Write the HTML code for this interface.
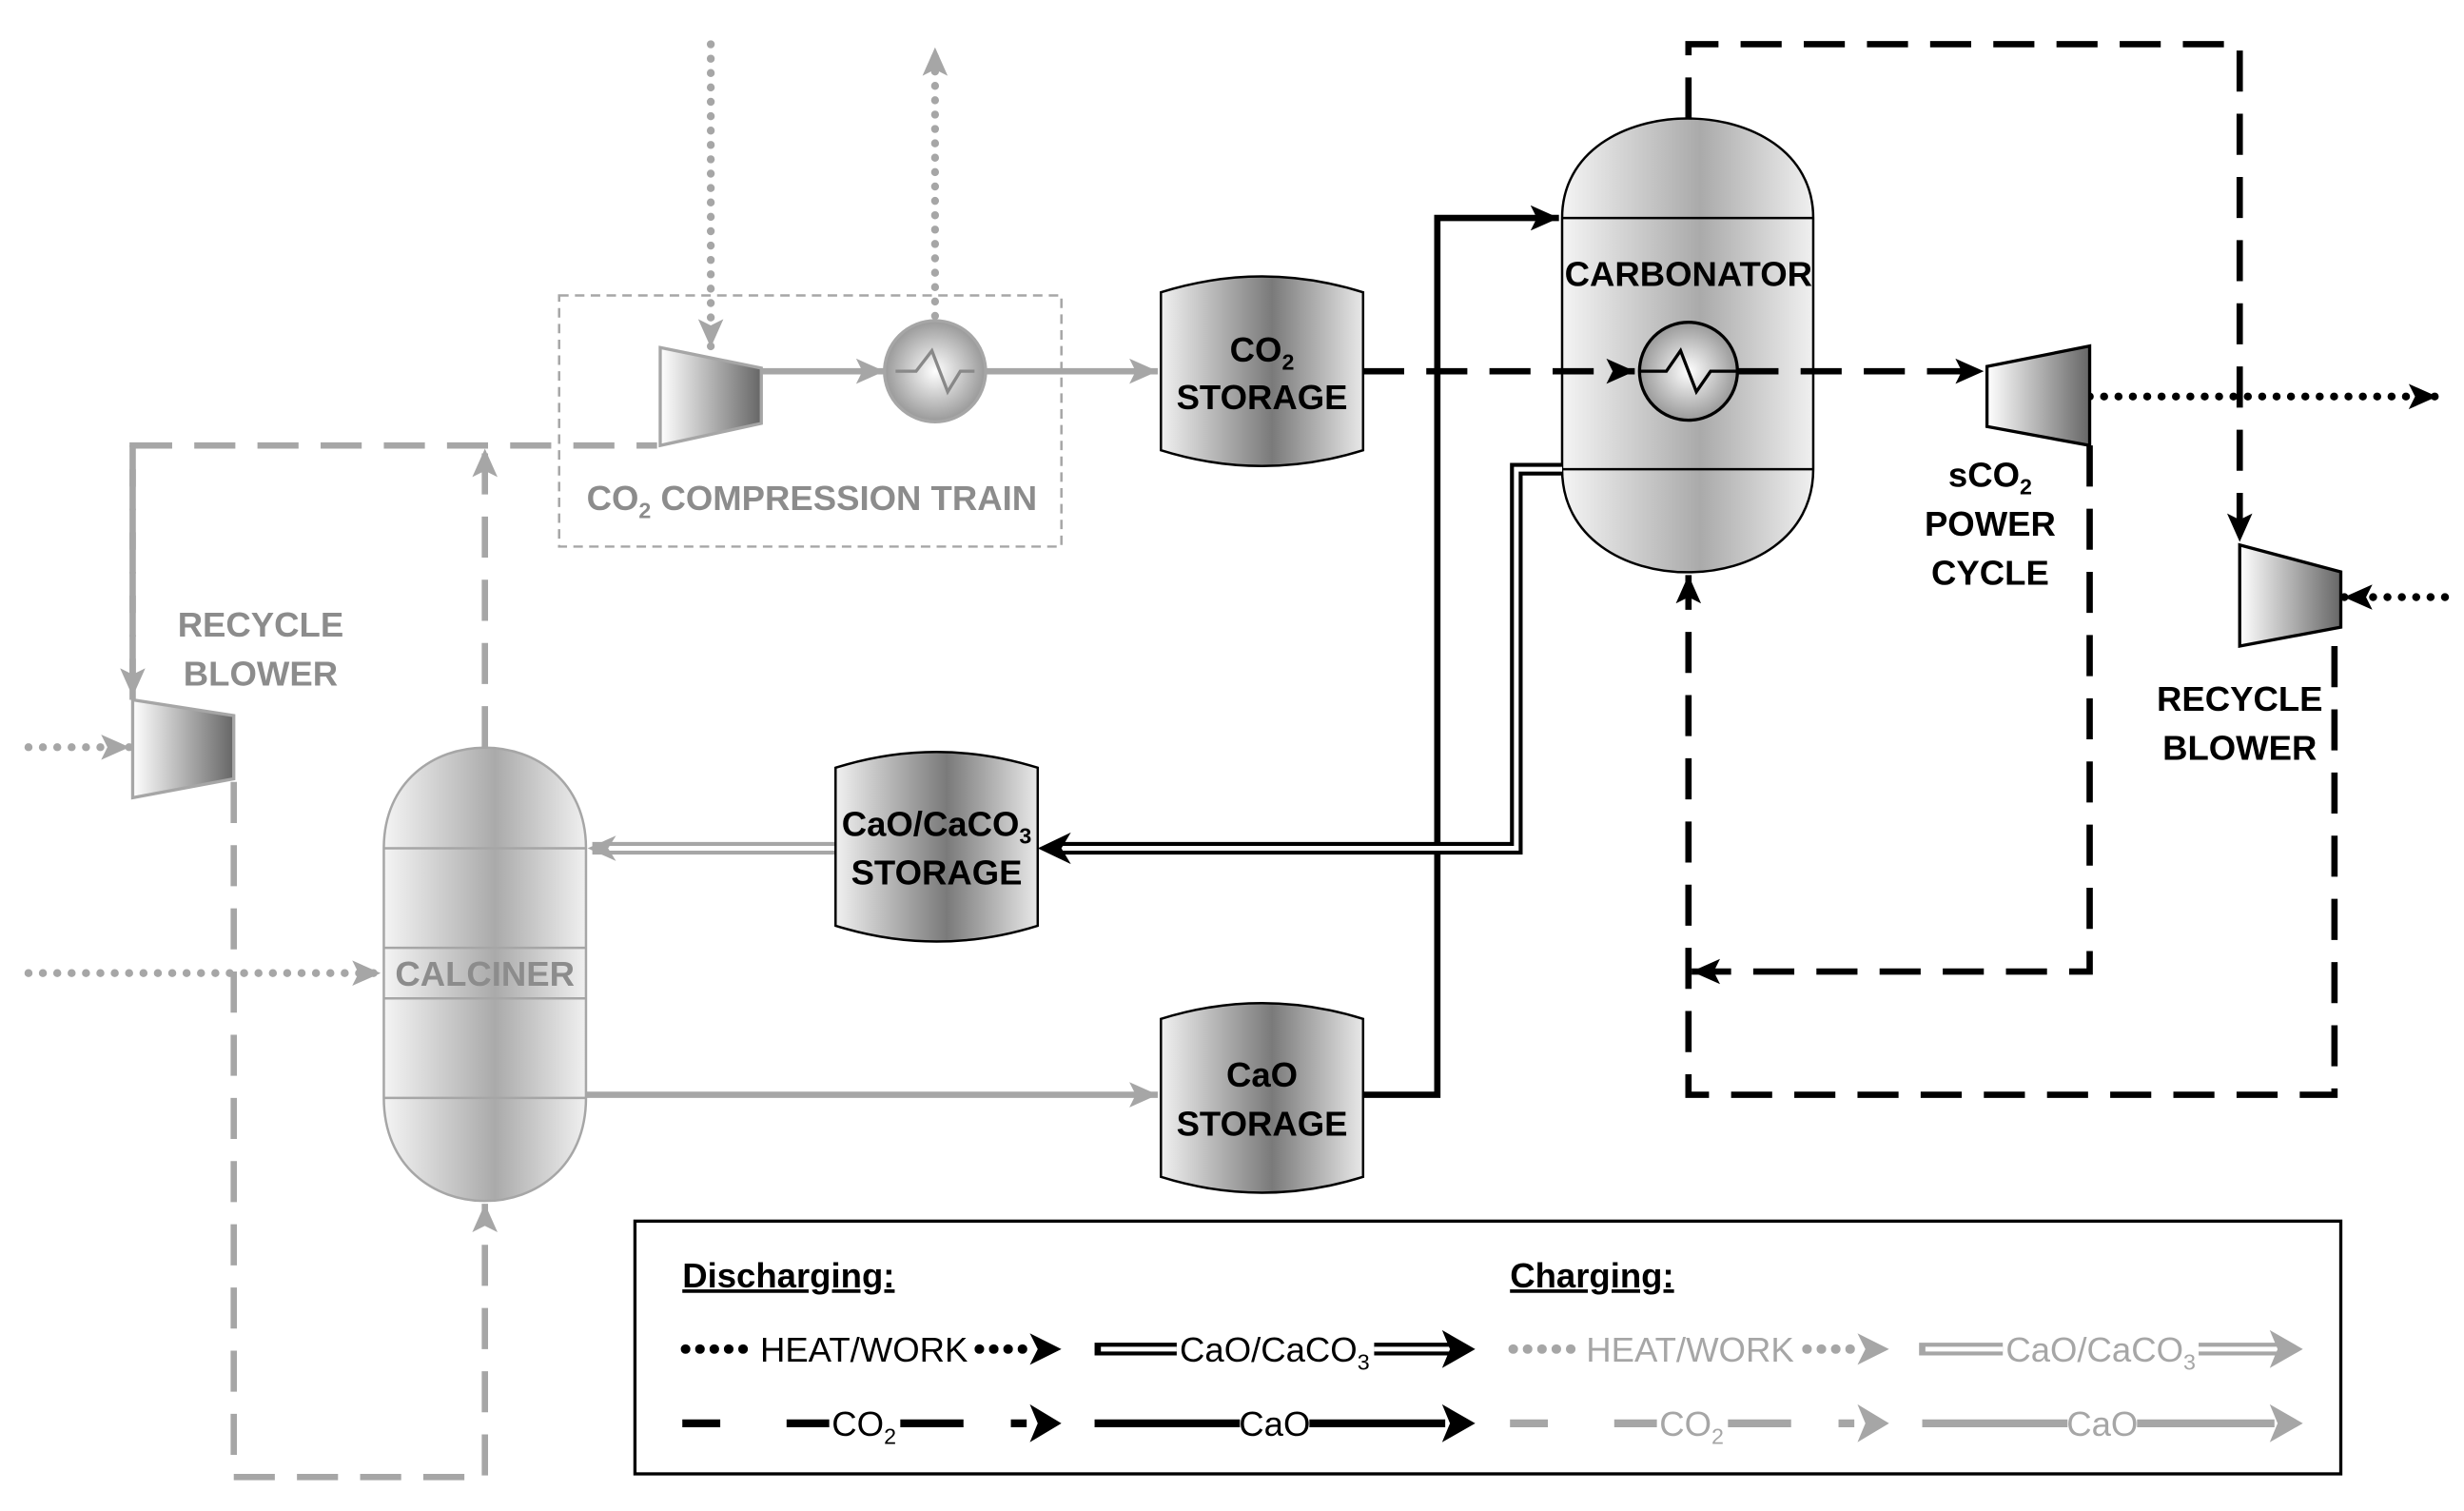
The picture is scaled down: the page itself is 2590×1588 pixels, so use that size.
<!DOCTYPE html>
<html><head><meta charset="utf-8"><style>html,body{margin:0;padding:0;background:#fff}svg{display:block}
text{font-family:"Liberation Sans Narrow","Liberation Sans",sans-serif;font-weight:bold}
text.n{font-weight:normal}</style></head><body>
<svg width="2590" height="1588" viewBox="0 0 1560 956.5" preserveAspectRatio="none" xmlns="http://www.w3.org/2000/svg">
<defs>
<linearGradient id="g" x1="0" x2="1" y1="0" y2="0"><stop offset="0" stop-color="#f0f0f0"/><stop offset="0.55" stop-color="#7a7a7a"/><stop offset="1" stop-color="#e8e8e8"/></linearGradient>
<linearGradient id="gl" x1="0" x2="1" y1="0" y2="0"><stop offset="0" stop-color="#f4f4f4"/><stop offset="0.55" stop-color="#aaa"/><stop offset="1" stop-color="#f0f0f0"/></linearGradient>
<radialGradient id="rg"><stop offset="0" stop-color="#fff"/><stop offset="1" stop-color="#999"/></radialGradient>
<linearGradient id="tg" x1="0" x2="1"><stop offset="0" stop-color="#fff"/><stop offset="1" stop-color="#666"/></linearGradient>
<marker id="ab" markerWidth="20" markerHeight="20" refX="18" refY="10" orient="auto" markerUnits="userSpaceOnUse"><path d="M0,2 L18,10 L0,18 L4,10Z" fill="#000"/></marker>
<marker id="ag" markerWidth="20" markerHeight="20" refX="18" refY="10" orient="auto" markerUnits="userSpaceOnUse"><path d="M0,2 L18,10 L0,18 L4,10Z" fill="#a6a6a6"/></marker>
</defs>

<rect x="354" y="187" width="318" height="159" fill="none" stroke="#a6a6a6" stroke-width="1.5" stroke-dasharray="6,4"/>
<text x="514" y="323" text-anchor="middle" font-size="22" fill="#8c8c8c">CO<tspan font-size="14" dy="5">2</tspan><tspan dy="-5"> COMPRESSION TRAIN</tspan></text>

<g fill="none" stroke="#a6a6a6" stroke-width="4">
<path d="M450,28 V220" stroke-dasharray="0.1,9" stroke-linecap="round" stroke-width="5" marker-end="url(#ag)"/>
<path d="M592,200 V30" stroke-dasharray="0.1,9" stroke-linecap="round" stroke-width="5" marker-end="url(#ag)"/>
<path d="M482,235 H560" marker-end="url(#ag)"/>
<path d="M624,235 H733" marker-end="url(#ag)"/>
<path d="M84,443 V282 H416" stroke-dasharray="26,14"/>
<path d="M84,282 V441" stroke-dasharray="26,14" marker-end="url(#ag)"/>
<path d="M307,473 V284" stroke-dasharray="26,14" marker-end="url(#ag)"/>
<path d="M148,495 V935 H307 V762" stroke-dasharray="26,14" marker-end="url(#ag)"/>
<path d="M18,473 H82" stroke-dasharray="0.1,9" stroke-linecap="round" stroke-width="5" marker-end="url(#ag)"/>
<path d="M18,616 H241" stroke-dasharray="0.1,9" stroke-linecap="round" stroke-width="5" marker-end="url(#ag)"/>
<path d="M371,693 H733" marker-end="url(#ag)"/>
<path d="M529,537 H375" stroke-width="8"/>
<path d="M529,537 H377" stroke="#fff" stroke-width="3"/>
</g>
<path d="M390,529 L372,537 L390,545 L385,537Z" fill="#a6a6a6"/>

<path d="M418,220 L482,233 L482,268 L418,282Z" fill="url(#tg)" stroke="#a6a6a6" stroke-width="2"/>
<circle cx="592" cy="235" r="32" fill="url(#rg)" stroke="#a6a6a6" stroke-width="2"/>
<path d="M567,235 H580 L590,222 L600,248 L608,235 H617" fill="none" stroke="#888" stroke-width="2"/>
<path d="M84,443 L148,453 L148,493 L84,505Z" fill="url(#tg)" stroke="#a6a6a6" stroke-width="2"/>
<text x="165" y="403" text-anchor="middle" font-size="22" fill="#8c8c8c">RECYCLE</text>
<text x="165" y="434" text-anchor="middle" font-size="22" fill="#8c8c8c">BLOWER</text>

<path d="M243,537 C243,452 371,452 371,537 V695 C371,782 243,782 243,695Z" fill="url(#gl)" stroke="#a6a6a6" stroke-width="1.5"/>
<path d="M243,537 H371 M243,600 H371 M243,632 H371 M243,695 H371" stroke="#a6a6a6" stroke-width="1.5"/>
<text x="307" y="624" text-anchor="middle" font-size="22" fill="#8c8c8c">CALCINER</text>

<g stroke="#000" stroke-width="1.5" fill="url(#g)">
<path d="M735,185 Q799,165 863,185 V285 Q799,305 735,285Z"/>
<path d="M529,486 Q593,466 657,486 V586 Q593,606 529,586Z"/>
<path d="M735,645 Q799,625 863,645 V745 Q799,765 735,745Z"/>
</g>
<text x="799" y="229" text-anchor="middle" font-size="22">CO<tspan font-size="14" dy="5">2</tspan></text>
<text x="799" y="259" text-anchor="middle" font-size="22">STORAGE</text>
<text x="593" y="529" text-anchor="middle" font-size="22">CaO/CaCO<tspan font-size="14" dy="5">3</tspan></text>
<text x="593" y="560" text-anchor="middle" font-size="22">STORAGE</text>
<text x="799" y="688" text-anchor="middle" font-size="22">CaO</text>
<text x="799" y="719" text-anchor="middle" font-size="22">STORAGE</text>

<!-- carbonator -->
<path d="M989,138 C989,54 1148,54 1148,138 V297 C1148,384 989,384 989,297Z" fill="url(#gl)" stroke="#000" stroke-width="1.5"/>
<path d="M989,138 H1148 M989,297 H1148" stroke="#000" stroke-width="1.5"/>
<text x="1069" y="181" text-anchor="middle" font-size="22">CARBONATOR</text>

<g fill="none" stroke="#000" stroke-width="4">
<path d="M863,693 H910 V138 H987" marker-end="url(#ab)"/>
<path d="M863,235 H1035" stroke-dasharray="26,14" marker-end="url(#ab)"/>
<path d="M1100,235 H1256" stroke-dasharray="26,14" marker-end="url(#ab)"/>
<path d="M1323,251 H1543" stroke-dasharray="0.1,9" stroke-linecap="round" stroke-width="5" marker-end="url(#ab)"/>
<path d="M1548,378 H1484" stroke-dasharray="0.1,9" stroke-linecap="round" stroke-width="5" marker-end="url(#ab)"/>
<path d="M1069,75 V28 H1418 V343" stroke-dasharray="26,14" marker-end="url(#ab)"/>
<path d="M1323,282 V615 H1071" stroke-dasharray="26,14" marker-end="url(#ab)"/>
<path d="M1478,409 V693 H1069 V364" stroke-dasharray="26,14" marker-end="url(#ab)"/>
<path d="M989,297 H960 V537 H670" stroke-width="8"/>
<path d="M989,297 H960 V537 H668" stroke="#fff" stroke-width="3"/>
</g>
<path d="M678,527 L657,537 L678,547 L672,537Z" fill="#000"/>
<circle cx="1069" cy="235" r="31" fill="url(#rg)" stroke="#000" stroke-width="2"/>
<path d="M1038,235 H1055 L1064,222 L1074,248 L1083,235 H1100" fill="none" stroke="#000" stroke-width="2"/>

<path d="M1258,232 L1323,219 L1323,282 L1258,270Z" fill="url(#tg)" stroke="#000" stroke-width="2"/>
<path d="M1418,345 L1482,362 L1482,397 L1418,409Z" fill="url(#tg)" stroke="#000" stroke-width="2"/>
<text x="1260" y="308" text-anchor="middle" font-size="22">sCO<tspan font-size="14" dy="5">2</tspan></text>
<text x="1260" y="339" text-anchor="middle" font-size="22">POWER</text>
<text x="1260" y="370" text-anchor="middle" font-size="22">CYCLE</text>
<text x="1418" y="450" text-anchor="middle" font-size="22">RECYCLE</text>
<text x="1418" y="481" text-anchor="middle" font-size="22">BLOWER</text>

<!-- legend -->
<rect x="402" y="773" width="1080" height="160" fill="none" stroke="#000" stroke-width="2"/>
<text x="432" y="815" font-size="22" text-decoration="underline">Discharging:</text>
<text x="956" y="815" font-size="22" text-decoration="underline">Charging:</text>
<g stroke-width="4" fill="none">
<path d="M434,854 H476 M620,854 H656" stroke="#000" stroke-width="6" stroke-linecap="round" stroke-dasharray="0.1,9"/>
<path d="M958,854 H1000 M1144,854 H1180" stroke="#a6a6a6" stroke-width="6" stroke-linecap="round" stroke-dasharray="0.1,9"/>
<path d="M693,854 H745 M870,854 H920" stroke="#000" stroke-width="8"/>
<path d="M697,854 H745 M870,854 H918" stroke="#fff" stroke-width="3"/>
<path d="M1215,854 H1268 M1392,854 H1444" stroke="#a6a6a6" stroke-width="8"/>
<path d="M1219,854 H1268 M1392,854 H1442" stroke="#fff" stroke-width="3"/>
<path d="M432,901 H456 M498,901 H525 M570,901 H610 M640,901 H650" stroke="#000" stroke-width="5"/>
<path d="M956,901 H980 M1022,901 H1049 M1094,901 H1134 M1164,901 H1174" stroke="#a6a6a6" stroke-width="5"/>
<path d="M693,901 H785 M829,901 H915" stroke="#000" stroke-width="5"/>
<path d="M1217,901 H1309 M1353,901 H1440" stroke="#a6a6a6" stroke-width="5"/>
</g>
<path d="M652,844 L672,854 L652,864 L657,854Z M913,842 L934,854 L913,866 L918,854Z M652,889 L672,901 L652,913 L657,901Z M913,889 L934,901 L913,913 L918,901Z"/>
<path d="M1176,844 L1196,854 L1176,864 L1181,854Z M1437,842 L1458,854 L1437,866 L1442,854Z M1176,889 L1196,901 L1176,913 L1181,901Z M1437,889 L1458,901 L1437,913 L1442,901Z" fill="#a6a6a6"/>
<g font-size="22">
<text class="n" x="547" y="862" text-anchor="middle">HEAT/WORK</text>
<text class="n" x="807" y="862" text-anchor="middle">CaO/CaCO<tspan font-size="14" dy="5">3</tspan></text>
<text class="n" x="547" y="909" text-anchor="middle">CO<tspan font-size="14" dy="5">2</tspan></text>
<text class="n" x="807" y="909" text-anchor="middle">CaO</text>
<text class="n" x="1070" y="862" text-anchor="middle" fill="#a6a6a6">HEAT/WORK</text>
<text class="n" x="1330" y="862" text-anchor="middle" fill="#a6a6a6">CaO/CaCO<tspan font-size="14" dy="5">3</tspan></text>
<text class="n" x="1071" y="909" text-anchor="middle" fill="#a6a6a6">CO<tspan font-size="14" dy="5">2</tspan></text>
<text class="n" x="1331" y="909" text-anchor="middle" fill="#a6a6a6">CaO</text>
</g>
</svg>
</body></html>
